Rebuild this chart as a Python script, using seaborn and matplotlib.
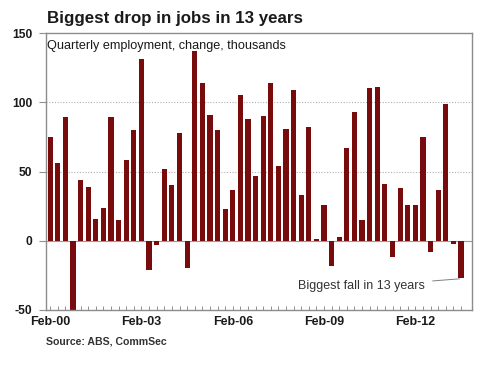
import matplotlib
matplotlib.use("Agg")
import matplotlib.pyplot as plt
from matplotlib.ticker import FixedLocator
import seaborn as sns
import pandas as pd

# ---- data ----
months = ["Feb", "May", "Aug", "Nov"]
quarters = [f"{m}-{y % 100:02d}" for y in range(2000, 2014) for m in months][:55]
change = [75, 56, 89, -51, 44, 39, 16, 24, 89, 15, 58, 80, 131,
          -21, -3, 52, 40, 78, -20, 137, 114, 91, 80, 23, 37,
          105, 88, 47, 90, 114, 54, 81, 109, 33, 82, 1, 26,
          -18, 3, 67, 93, 15, 110, 111, 41, -12, 38, 26, 26,
          75, -8, 37, 99, -2, -27]
tick_labels = ["Feb-00", "Feb-03", "Feb-06", "Feb-09", "Feb-12"]
y_ticks = [-50, 0, 50, 100, 150]

df = pd.DataFrame({"quarter": quarters, "change": change})

sns.set_theme(style="white")
plt.rcParams["font.family"] = ["Liberation Sans", "DejaVu Sans"]

fig = plt.figure(figsize=(4.8, 3.69), dpi=100)
ax = fig.add_axes([46 / 480, 1 - 310 / 369, (472 - 46) / 480, (310 - 33) / 369])

bar_color = "#780b0c"
sns.barplot(data=df, x="quarter", y="change", color=bar_color, saturation=1,
            width=0.68, linewidth=0, edgecolor=bar_color, ax=ax)

ax.set_ylim(-50, 150)
ax.set_xlim(-0.55, 55.45)
ax.set_xlabel("")
ax.set_ylabel("")

# grid and zero line
for yv in [50, 100]:
    ax.axhline(yv, color="#b0b0b0", lw=0.8, ls=(0, (1, 1.5)), zorder=0)
ax.axhline(0, color="#9a9a9a", lw=0.8, zorder=0)

# y ticks
ax.set_yticks(y_ticks)
ax.set_yticklabels([str(v) for v in y_ticks], fontsize=8.7, fontweight="bold", color="#1a1a1a")
ax.tick_params(axis="y", which="major", direction="out", length=5, width=0.8,
               color="#909090", pad=5, left=True)

# x ticks
major_pos = [quarters.index(t) for t in tick_labels]
ax.xaxis.set_major_locator(FixedLocator(major_pos))
ax.set_xticklabels(tick_labels, fontsize=9, fontweight="bold", color="#1a1a1a")
ax.xaxis.set_minor_locator(FixedLocator(list(range(len(quarters)))))
ax.tick_params(axis="x", which="both", direction="in", length=3, width=0.7,
               color="#909090", bottom=True, pad=4)

for sp in ax.spines.values():
    sp.set_color("#8c8c8c")
    sp.set_linewidth(1.0)
    sp.set_visible(True)

# texts
fig.text(47 / 480, 1 - 18 / 369, "Biggest drop in jobs in 13 years", fontsize=12.2,
         fontweight="bold", color="#1a1a1a", va="center", ha="left")
ax.text(0.003, 0.975, "Quarterly employment, change, thousands", transform=ax.transAxes,
        fontsize=9.1, color="#1a1a1a", va="top", ha="left")
fig.text(46 / 480, 1 - 342 / 369, "Source: ABS, CommSec", fontsize=7.6,
         fontweight="bold", color="#333333", va="center", ha="left")

ax.annotate("Biggest fall in 13 years", xy=(53.8, -27.5), xytext=(49.3, -33),
            fontsize=9, color="#333333", ha="right", va="center",
            arrowprops=dict(arrowstyle="-", color="#808080", lw=0.7,
                            shrinkA=3, shrinkB=0))

fig.savefig("out.png", dpi=100, facecolor="white")
